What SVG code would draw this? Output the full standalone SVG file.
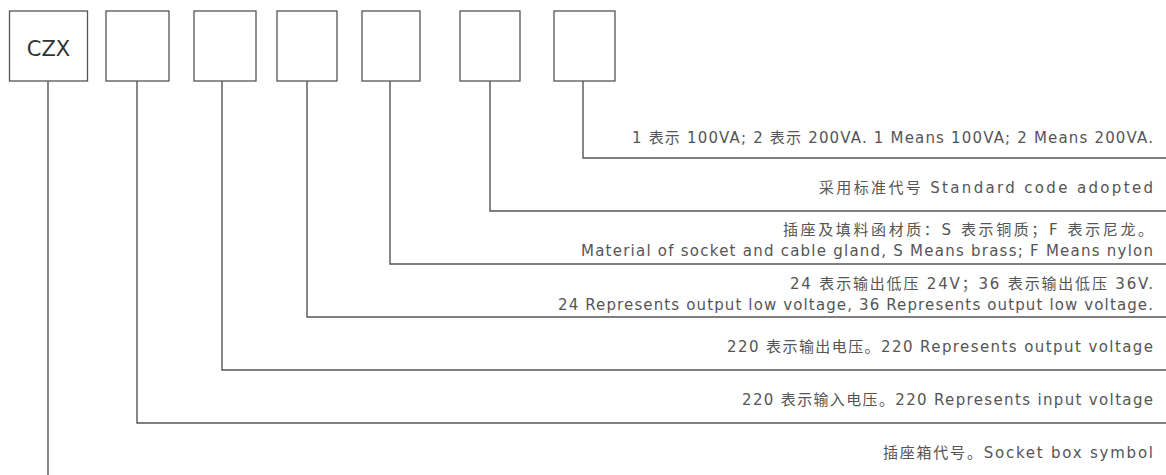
<svg xmlns="http://www.w3.org/2000/svg" width="1166" height="475" viewBox="0 0 1166 475">
  <style>
    .box { fill: #ffffff; stroke: #555555; stroke-width: 1.3; }
    .conn { fill: none; stroke: #555555; stroke-width: 1.4; }
    .lbl { font-family: "DejaVu Sans", "Noto Sans CJK SC", sans-serif; font-size: 15px; fill: #555555; text-anchor: end; }
    .code { font-family: "DejaVu Sans", "Noto Sans CJK SC", sans-serif; font-size: 21px; fill: #333333; text-anchor: middle; }
  </style>
  <rect width="1166" height="475" fill="#ffffff"/>
  <g id="box-czx">
    <rect class="box" x="9.5" y="11" width="78" height="70"/>
    <text class="code" x="48.5" y="56">CZX</text>
  </g>
  <g id="box-2"><rect class="box" x="106" y="11" width="63" height="70"/></g>
  <g id="box-3"><rect class="box" x="194" y="11" width="62" height="70"/></g>
  <g id="box-4"><rect class="box" x="277" y="11" width="60" height="70"/></g>
  <g id="box-5"><rect class="box" x="362" y="11" width="58" height="70"/></g>
  <g id="box-6"><rect class="box" x="460" y="11" width="60" height="70"/></g>
  <g id="box-7"><rect class="box" x="554" y="11" width="61" height="70"/></g>
  <g id="connectors">
    <path class="conn" d="M583 81 V158 H1166"/>
    <path class="conn" d="M490 81 V211 H1166"/>
    <path class="conn" d="M390 81 V264 H1166"/>
    <path class="conn" d="M307 81 V317 H1166"/>
    <path class="conn" d="M222 81 V370 H1166"/>
    <path class="conn" d="M137 81 V423 H1166"/>
    <path class="conn" d="M48 81 V475"/>
  </g>
  <g id="labels">
    <text class="lbl" x="1153" y="143" textLength="521" lengthAdjust="spacing">1 表示 100VA; 2 表示 200VA. 1 Means 100VA; 2 Means 200VA.</text>
    <text class="lbl" x="1153" y="193" textLength="334" lengthAdjust="spacing">采用标准代号  Standard code adopted</text>
    <text class="lbl" x="1153" y="235" textLength="370" lengthAdjust="spacing">插座及填料函材质：S 表示铜质；F 表示尼龙。</text>
    <text class="lbl" x="1153" y="256" textLength="572" lengthAdjust="spacing">Material of socket and cable gland, S Means brass; F Means nylon</text>
    <text class="lbl" x="1153" y="289" textLength="363" lengthAdjust="spacing">24 表示输出低压 24V；36 表示输出低压 36V.</text>
    <text class="lbl" x="1153" y="310" textLength="595" lengthAdjust="spacing">24 Represents output low voltage, 36 Represents output low voltage.</text>
    <text class="lbl" x="1153" y="352" textLength="426" lengthAdjust="spacing">220 表示输出电压。220 Represents output voltage</text>
    <text class="lbl" x="1153" y="405" textLength="411" lengthAdjust="spacing">220 表示输入电压。220 Represents input voltage</text>
    <text class="lbl" x="1153" y="458" textLength="270" lengthAdjust="spacing">插座箱代号。Socket box symbol</text>
  </g>
</svg>
